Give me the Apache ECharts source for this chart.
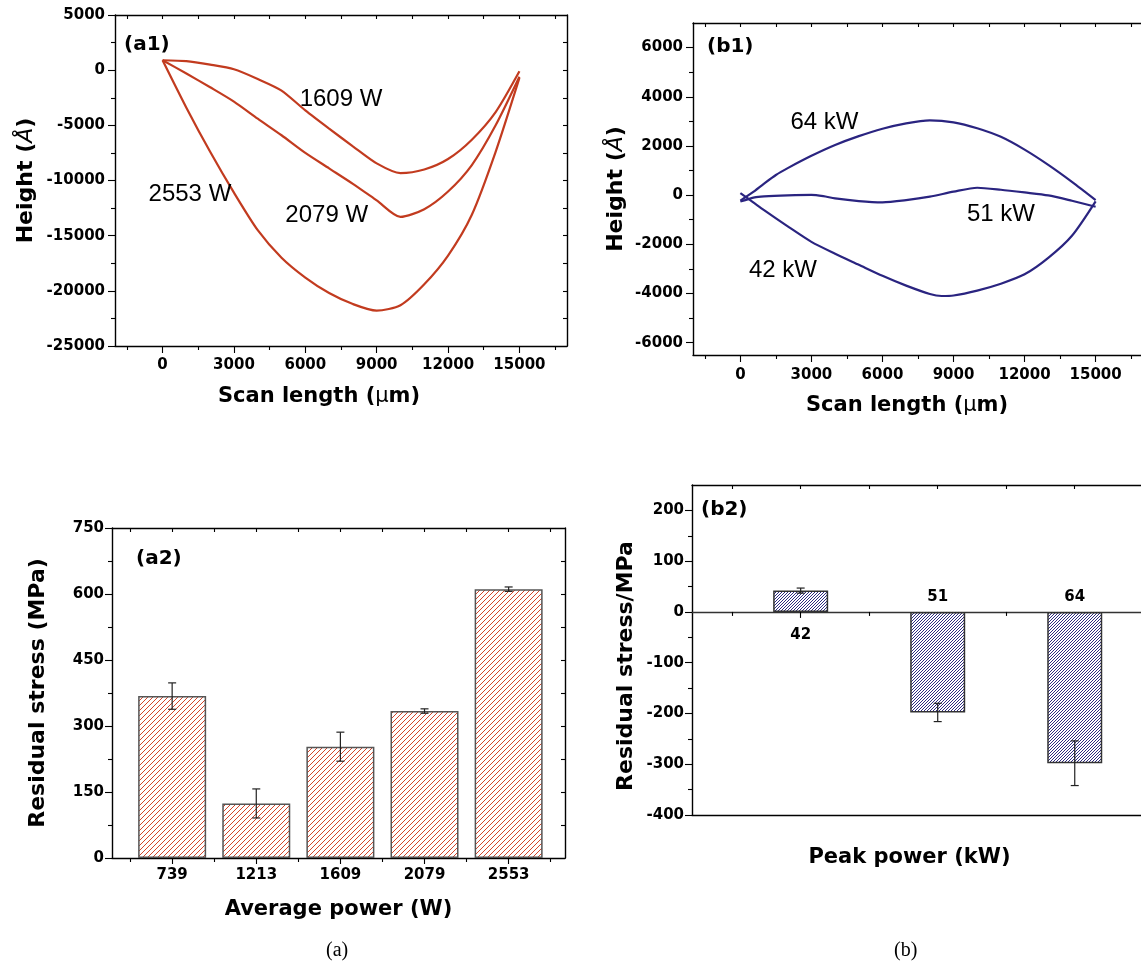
<!DOCTYPE html>
<html><head><meta charset="utf-8">
<script src="https://cdn.jsdelivr.net/npm/echarts@6/dist/echarts.min.js"></script>
<style>html,body{margin:0;padding:0;background:#fff}#c{width:1141px;height:968px}</style>
</head><body><div id="c"></div>
<script>
// ---------------- DATA ----------------
// (a1) height profiles, Scan length (um) vs Height (A)
const a1Series1609 = [[0,900],[1000,820],[2000,500],[3000,80],[4000,-800],[5000,-1850],[6000,-3650],[7000,-5300],[8000,-6900],[9000,-8450],[10000,-9330],[11000,-9000],[12000,-8050],[13000,-6300],[14000,-3800],[15000,-100]];
const a1Series2079 = [[0,900],[1000,-300],[2000,-1550],[3000,-2850],[4000,-4400],[5000,-5900],[6000,-7500],[7000,-8900],[8000,-10300],[9000,-11800],[10000,-13300],[11000,-12600],[12000,-11000],[13000,-8600],[14000,-5000],[15000,-600]];
const a1Series2553 = [[0,900],[1000,-3400],[2000,-7400],[3000,-11100],[4000,-14500],[5000,-17000],[6000,-18800],[7000,-20200],[8000,-21200],[9000,-21800],[10000,-21300],[11000,-19400],[12000,-16800],[13000,-13100],[14000,-7400],[15000,-700]];
const a1Names = ['1609 W','2079 W','2553 W'];
// (b1) height profiles
const b1Series64 = [[0,-220],[500,100],[1000,470],[1500,820],[2000,1100],[3000,1600],[4000,2040],[5000,2400],[6000,2700],[7000,2920],[8000,3040],[9000,2960],[10000,2720],[11000,2370],[12000,1850],[13000,1230],[14000,540],[15000,-200]];
const b1Series51 = [[0,-260],[600,-90],[1000,-50],[2000,-10],[3000,10],[3500,-40],[4000,-130],[5000,-240],[6000,-290],[7000,-200],[8000,-60],[9000,140],[10000,300],[11000,220],[12000,110],[13000,-10],[14000,-230],[15000,-470]];
const b1Series42 = [[0,80],[500,-260],[1000,-610],[2000,-1270],[3000,-1900],[4000,-2380],[5000,-2830],[6000,-3280],[7000,-3680],[8000,-4020],[8500,-4100],[9000,-4080],[10000,-3880],[11000,-3600],[12000,-3220],[13000,-2550],[14000,-1650],[15000,-250]];
const b1Names = ['64 kW','51 kW','42 kW'];
// (a2) residual stress vs average power
const a2Categories = ['739','1213','1609','2079','2553'];
const a2Values = [368,124,253,334,611];
const a2Errors = [30,33,33,5,5];
// (b2) residual stress vs peak power
const b2Categories = ['42','51','64'];
const b2Values = [42,-198,-298];
const b2Errors = [5,18,44];
// tick labels
const scanTicks = [0,3000,6000,9000,12000,15000];
const a1YTicks = [-25000,-20000,-15000,-10000,-5000,0,5000];
const b1YTicks = [-6000,-4000,-2000,0,2000,4000,6000];
const a2YTicks = [0,150,300,450,600,750];
const b2YTicks = [-400,-300,-200,-100,0,100,200];

// ---------------- HELPERS ----------------
const FONT = 'DejaVu Sans';
const INK = '#000';
function range(a,b,s){const r=[];for(let v=a;v<=b+1e-9;v+=s)r.push(+v.toFixed(6));return r;}
function without(all, major){return all.filter(v=>!major.some(m=>Math.abs(m-v)<1e-6));}
function axis(o){
  return {
    type:'value', gridIndex:o.grid, position:o.pos, min:o.min, max:o.max, offset:o.offset||0,
    axisLine:{show:!!o.line, onZero:false, lineStyle:{color:o.lineColor||INK,width:1.4}},
    axisTick:{show:!!o.ticks, customValues:o.ticks||[], inside:!!o.inside, length:o.tickLen||4, lineStyle:{color:INK,width:1.1}},
    axisLabel:{show:!!o.labels, customValues:o.labels||[], inside:!!o.labelInside, margin:o.margin==null?8:o.margin,
      formatter:o.fmt||(v=>String(v)), fontFamily:FONT, fontWeight:'bold', fontSize:15, color:INK},
    splitLine:{show:false}, minorTick:{show:false}, minorSplitLine:{show:false},
    name:o.name||'', nameLocation:'middle', nameGap:o.nameGap||30, nameMoveOverlap:false,
    nameTextStyle:o.nameStyle||{}, silent:true
  };
}
function titleRich(size){
  return {
    b:{fontFamily:FONT,fontWeight:'bold',fontSize:size,color:INK},
    i:{fontFamily:FONT,fontStyle:'italic',fontWeight:'normal',fontSize:size,color:INK},
    m:{fontFamily:FONT,fontWeight:'normal',fontSize:size,color:INK}
  };
}
function hatch(color,size,lw){
  const c=document.createElement('canvas');c.width=size;c.height=size;
  const g=c.getContext('2d');g.fillStyle='#fff';g.fillRect(0,0,size,size);
  g.strokeStyle=color;g.lineWidth=lw;g.beginPath();
  g.moveTo(0,size);g.lineTo(size,0);
  g.moveTo(-size/2,size/2);g.lineTo(size/2,-size/2);
  g.moveTo(size/2,size*1.5);g.lineTo(size*1.5,size/2);
  g.stroke();return c;
}
function errRender(cap){
  return function(params,api){
    const x=api.value(0),y=api.value(1),e=api.value(2);
    const t=api.coord([x,y+e]),b=api.coord([x,y-e]);
    const st={stroke:'#222',lineWidth:1.2};
    return {type:'group',children:[
      {type:'line',shape:{x1:t[0],y1:t[1],x2:b[0],y2:b[1]},style:st},
      {type:'line',shape:{x1:t[0]-cap,y1:t[1],x2:t[0]+cap,y2:t[1]},style:st},
      {type:'line',shape:{x1:b[0]-cap,y1:b[1],x2:b[0]+cap,y2:b[1]},style:st}]};
  };
}

// ---------------- GRIDS ----------------
const grids = [
  {left:115,top:15,width:452,height:331},
  {left:693,top:23,width:450,height:332},
  {left:112,top:528,width:453,height:330},
  {left:692,top:485,width:491,height:330}
];
const B2_MIN = -400, B2_MAX = 250;
// the (b2) category axis sits on the zero line: shift it up from the grid bottom by the scale
const b2ZeroOffset = -grids[3].height * (0 - B2_MIN) / (B2_MAX - B2_MIN);

// ---------------- AXES ----------------
const scanMinor = without(range(-1500,16500,1500), scanTicks);
const scanAll = range(-1500,16500,1500);
const scanName = '{b|Scan length (}{m|μ}{b|m)}';
const heightName = '{b|Height (}{i|Å}{b|)}';
const catFmt = v=>b2Categories[Math.round(v)-1];

const xAxes = [
  // a1
  axis({grid:0,pos:'bottom',min:-2000,max:17000,line:true,ticks:scanTicks,tickLen:7,labels:scanTicks,margin:12,
        name:scanName,nameGap:40,nameStyle:{rich:titleRich(21),padding:[0,44,0,0]}}),
  axis({grid:0,pos:'bottom',min:-2000,max:17000,ticks:scanMinor,tickLen:4}),
  axis({grid:0,pos:'top',min:-2000,max:17000,line:true,ticks:scanAll,inside:true,tickLen:4}),
  // b1
  axis({grid:1,pos:'bottom',min:-2000,max:17000,line:true,ticks:scanTicks,tickLen:7,labels:scanTicks,margin:13,
        name:scanName,nameGap:40,nameStyle:{rich:titleRich(21),padding:[0,22,0,0]}}),
  axis({grid:1,pos:'bottom',min:-2000,max:17000,ticks:scanMinor,tickLen:4}),
  axis({grid:1,pos:'top',min:-2000,max:17000,line:true,ticks:scanAll,inside:true,tickLen:4}),
  // a2
  axis({grid:2,pos:'bottom',min:0.285,max:5.67,line:true,ticks:[1,2,3,4,5],tickLen:6,labels:[1,2,3,4,5],margin:10,
        fmt:v=>a2Categories[Math.round(v)-1],
        name:'Average power (W)',nameGap:41,nameStyle:{fontFamily:FONT,fontWeight:'bold',fontSize:21,color:INK}}),
  axis({grid:2,pos:'bottom',min:0.285,max:5.67,ticks:[0.5,1.5,2.5,3.5,4.5,5.5],tickLen:4}),
  axis({grid:2,pos:'top',min:0.285,max:5.67,line:true,ticks:range(0.5,5.5,0.5),inside:true,tickLen:4}),
  // b2 zero line (labels below)
  axis({grid:3,pos:'bottom',min:0.207,max:3.79,offset:b2ZeroOffset,line:true,lineColor:'#333',ticks:[1,2,3],tickLen:6,labels:[1],margin:16,fmt:catFmt}),
  // b2 zero line (labels above)
  axis({grid:3,pos:'bottom',min:0.207,max:3.79,offset:b2ZeroOffset,labels:[2,3],labelInside:true,margin:7,fmt:catFmt}),
  axis({grid:3,pos:'bottom',min:0.207,max:3.79,offset:b2ZeroOffset,ticks:[0.5,1.5,2.5,3.5],tickLen:4}),
  // b2 bottom frame
  axis({grid:3,pos:'bottom',min:0.207,max:3.79,line:true,
        name:'Peak power (kW)',nameGap:32,nameStyle:{fontFamily:FONT,fontWeight:'bold',fontSize:21,color:INK,padding:[0,56,0,0]}}),
  axis({grid:3,pos:'top',min:0.207,max:3.79,line:true,ticks:range(0.5,3.5,0.5),inside:true,tickLen:4})
];
const yAxes = [
  // a1
  axis({grid:0,pos:'left',min:-25000,max:5000,line:true,ticks:a1YTicks,tickLen:7,labels:a1YTicks,margin:10,
        name:heightName,nameGap:78,nameStyle:{rich:titleRich(22)}}),
  axis({grid:0,pos:'left',min:-25000,max:5000,ticks:without(range(-22500,2500,2500),a1YTicks),tickLen:4}),
  axis({grid:0,pos:'right',min:-25000,max:5000,line:true,ticks:range(-22500,2500,2500),inside:true,tickLen:4}),
  // b1
  axis({grid:1,pos:'left',min:-6500,max:7000,line:true,ticks:b1YTicks,tickLen:7,labels:b1YTicks,margin:10,
        name:heightName,nameGap:66,nameStyle:{rich:titleRich(22)}}),
  axis({grid:1,pos:'left',min:-6500,max:7000,ticks:without(range(-5000,5000,1000),b1YTicks),tickLen:4}),
  axis({grid:1,pos:'right',min:-6500,max:7000,line:true}),
  // a2
  axis({grid:2,pos:'left',min:0,max:750,line:true,ticks:a2YTicks,tickLen:7,labels:a2YTicks,margin:8,
        name:'Residual stress (MPa)',nameGap:63,nameStyle:{fontFamily:FONT,fontWeight:'bold',fontSize:22,color:INK}}),
  axis({grid:2,pos:'left',min:0,max:750,ticks:without(range(75,675,75),a2YTicks),tickLen:4}),
  axis({grid:2,pos:'right',min:0,max:750,line:true,ticks:range(75,675,75),inside:true,tickLen:4}),
  // b2
  axis({grid:3,pos:'left',min:B2_MIN,max:B2_MAX,line:true,ticks:b2YTicks,tickLen:7,labels:b2YTicks,margin:8,
        name:'Residual stress/MPa',nameGap:55,nameStyle:{fontFamily:FONT,fontWeight:'bold',fontSize:22,color:INK,padding:[0,32,0,0]}}),
  axis({grid:3,pos:'left',min:B2_MIN,max:B2_MAX,ticks:without(range(-350,200,50),b2YTicks),tickLen:4}),
  axis({grid:3,pos:'right',min:B2_MIN,max:B2_MAX,line:true,ticks:range(-350,200,50),inside:true,tickLen:4})
];

// ---------------- SERIES ----------------
const RED = '#c23b1f';
const NAVY = '#2a2480';
function curve(name,data,xi,yi,color){
  return {type:'line',name,data,xAxisIndex:xi,yAxisIndex:yi,showSymbol:false,smooth:0.25,silent:true,
          lineStyle:{color,width:2.2},itemStyle:{color},z:3};
}
const series = [
  curve('1609 W',a1Series1609,0,0,RED),
  curve('2079 W',a1Series2079,0,0,RED),
  curve('2553 W',a1Series2553,0,0,RED),
  curve('64 kW',b1Series64,3,3,NAVY),
  curve('51 kW',b1Series51,3,3,NAVY),
  curve('42 kW',b1Series42,3,3,NAVY),
  {type:'bar',xAxisIndex:6,yAxisIndex:6,barWidth:68,silent:true,
   data:a2Values.map((v,i)=>[i+1,v]),
   itemStyle:{color:{image:hatch('#d4462a',5,1),repeat:'repeat'},borderColor:'#555',borderWidth:1.5}},
  {type:'custom',xAxisIndex:6,yAxisIndex:6,silent:true,z:4,renderItem:errRender(4),
   data:a2Values.map((v,i)=>[i+1,v,a2Errors[i]])},
  {type:'bar',xAxisIndex:9,yAxisIndex:9,barWidth:55,silent:true,
   data:b2Values.map((v,i)=>[i+1,v]),
   itemStyle:{color:{image:hatch('#2e2a82',3,1),repeat:'repeat'},borderColor:'#333',borderWidth:1.5}},
  {type:'custom',xAxisIndex:9,yAxisIndex:9,silent:true,z:4,renderItem:errRender(4),
   data:b2Values.map((v,i)=>[i+1,v,b2Errors[i]])}
];

const panelFont = {fontFamily:FONT,fontWeight:'bold',fontSize:20,color:INK};
const capFont = {fontFamily:'Liberation Serif',fontWeight:'normal',fontSize:20,color:INK};
const option = {
  animation:false, backgroundColor:'#fff',
  grid:grids.map(g=>Object.assign({outerBoundsMode:'none',containLabel:false},g)),
  title:[
    {text:'(a1)',left:124,top:35,padding:0,textStyle:panelFont},
    {text:'(b1)',left:707,top:37,padding:0,textStyle:panelFont},
    {text:'(a2)',left:136,top:549,padding:0,textStyle:panelFont},
    {text:'(b2)',left:701,top:500,padding:0,textStyle:panelFont},
    {text:'(a)',left:326,top:941,padding:0,textStyle:capFont},
    {text:'(b)',left:894,top:941,padding:0,textStyle:capFont}
  ],
  xAxis:xAxes, yAxis:yAxes, series
};
const chart = echarts.init(document.getElementById('c'),null,{renderer:'canvas',width:1141,height:968});
chart.setOption(option);

// curve annotations: text centres given in data units, placed through the axes' scales
const a1NotePos = [[7500,-2650],[6900,-13200],[1150,-11230]];
const b1NotePos = [[3550,2950],[11000,-800],[1800,-3050]];
function noteTexts(names,pos,xi,yi){
  return names.map((n,i)=>{
    const p = chart.convertToPixel({xAxisIndex:xi,yAxisIndex:yi},pos[i]);
    return {type:'text',x:p[0],y:p[1],silent:true,z:10,
      style:{text:n,fontFamily:'Liberation Sans',fontSize:24,fill:'#000',align:'center',verticalAlign:'middle'}};
  });
}
chart.setOption({graphic:noteTexts(a1Names,a1NotePos,0,0).concat(noteTexts(b1Names,b1NotePos,3,3))});
</script></body></html>
